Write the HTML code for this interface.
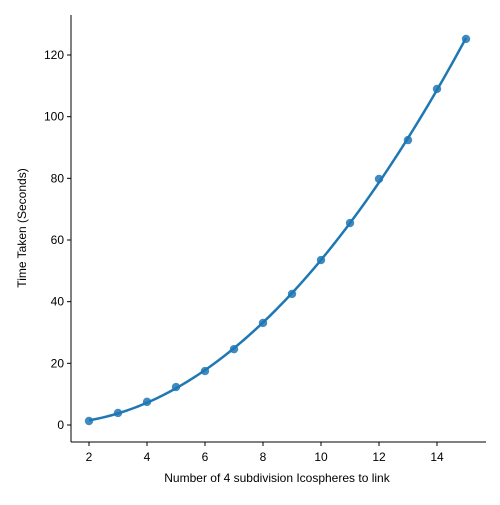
<!DOCTYPE html>
<html><head><meta charset="utf-8"><style>
body{margin:0;background:#fff;font-family:"Liberation Sans","DejaVu Sans",sans-serif;}
svg text{font-family:"Liberation Sans","DejaVu Sans",sans-serif;font-size:12px;fill:#000;}
</style></head><body>
<svg id="chart" width="500" height="500" viewBox="0 0 500 500"></svg>
<script>
const xValues=[2,3,4,5,6,7,8,9,10,11,12,13,14,15];
const yValues=[1.3,3.9,7.5,12.3,17.5,24.6,33.1,42.5,53.5,65.5,79.8,92.4,109,125.2];
const xTicks=[2,4,6,8,10,12,14];
const yTicks=[0,20,40,60,80,100,120];
const NS="http://www.w3.org/2000/svg";
const svg=document.getElementById('chart');
const X=v=>89+(v-2)*29;
const Y=v=>425-v*370/120;
function mk(t,a){const e=document.createElementNS(NS,t);for(const k in a)e.setAttribute(k,a[k]);svg.appendChild(e);return e;}
// spines
let s=mk('line',{x1:71,y1:15,x2:71,y2:442,stroke:'#000','stroke-width':1});


s=mk('line',{x1:71,y1:442,x2:486,y2:442,stroke:'#000','stroke-width':1});


xTicks.forEach(v=>{
 const l=mk('line',{x1:X(v),y1:442,x2:X(v),y2:446,stroke:'#000'});
 
 
 const t=mk('text',{x:X(v),y:461,'text-anchor':'middle'});t.textContent=v;
 
 
});
yTicks.forEach(v=>{
 const l=mk('line',{x1:67,y1:Y(v),x2:71,y2:Y(v),stroke:'#000'});
 
 
 const t=mk('text',{x:64,y:Y(v)+4,'text-anchor':'end'});t.textContent=v;
 
 
});
let t=mk('text',{x:277,y:482,'text-anchor':'middle'});t.textContent='Number of 4 subdivision Icospheres to link';


t=mk('text',{x:26,y:228,'text-anchor':'middle',transform:'rotate(-90 26 228)'});t.textContent='Time Taken (Seconds)';


// quadratic fit
(function(){
 let n=xValues.length,S=[0,0,0,0,0],T=[0,0,0];
 xValues.forEach((x,i)=>{for(let k=0;k<5;k++)S[k]+=x**k;for(let k=0;k<3;k++)T[k]+=yValues[i]*x**k;});
 const A=[[S[0],S[1],S[2],T[0]],[S[1],S[2],S[3],T[1]],[S[2],S[3],S[4],T[2]]];
 for(let i=0;i<3;i++){for(let j=i+1;j<3;j++){const f=A[j][i]/A[i][i];for(let k=i;k<4;k++)A[j][k]-=f*A[i][k];}}
 const c=[0,0,0];for(let i=2;i>=0;i--){let v=A[i][3];for(let k=i+1;k<3;k++)v-=A[i][k]*c[k];c[i]=v/A[i][i];}
 const x0=Math.min(...xValues),x1=Math.max(...xValues);let d='';
 for(let i=0;i<=100;i++){const x=x0+(x1-x0)*i/100;d+=(i?'L':'M')+X(x).toFixed(2)+','+Y(c[0]+c[1]*x+c[2]*x*x).toFixed(2);}
 const p=mk('path',{d:d,fill:'none',stroke:'#1f77b4','stroke-width':2.5});
 
 
})();
xValues.forEach((x,i)=>{
 const c=mk('circle',{cx:X(x),cy:Y(yValues[i]),r:4.2,fill:'#1f77b4','fill-opacity':0.85});
 
 
});
</script>
</body></html>
